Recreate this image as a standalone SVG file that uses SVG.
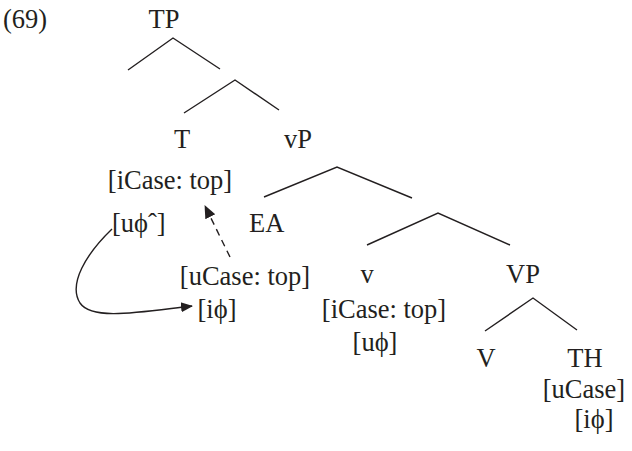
<svg xmlns="http://www.w3.org/2000/svg" width="632" height="451" viewBox="0 0 632 451">
<style>
text{font-family:"Liberation Serif","Times New Roman",serif;font-size:26.5px;fill:#231f20;text-anchor:middle}
.l{text-anchor:start}
.br{stroke:#231f20;stroke-width:1.4;fill:none}
</style>
<defs>
<marker id="ah" viewBox="0 0 12 12" refX="11" refY="6" markerWidth="12" markerHeight="12" markerUnits="userSpaceOnUse" orient="auto"><path d="M0,1 L12,6 L0,11 Z" fill="#231f20"/></marker>
<marker id="ah2" viewBox="0 0 13 13" refX="12" refY="6.5" markerWidth="13" markerHeight="13" markerUnits="userSpaceOnUse" orient="auto"><path d="M0,1 L13,6.5 L0,12 Z" fill="#231f20"/></marker>
</defs>
<text class="l" x="3" y="28">(69)</text>
<g id="TP"><text x="164" y="28">TP</text></g>
<g id="T"><text x="182" y="148">T</text><text x="170" y="189">[iCase: top]</text><text class="l" x="112" y="232">[uϕˆ]</text></g>
<g id="vP"><text x="298" y="148">vP</text></g>
<g id="EA"><text class="l" x="249" y="232">EA</text><text x="245" y="285">[uCase: top]</text><text x="217" y="318">[iϕ]</text></g>
<g id="v"><text x="367" y="283">v</text><text x="384" y="318">[iCase: top]</text><text x="375" y="351">[uϕ]</text></g>
<g id="VP"><text x="523" y="283">VP</text></g>
<g id="V"><text x="486" y="367">V</text></g>
<g id="TH"><text x="585" y="367">TH</text><text x="584" y="398">[uCase]</text><text x="594" y="428">[iϕ]</text></g>
<g id="connectors" class="br">
<path d="M128,70 L173,38 L220,69"/>
<path d="M184,113 L235,80 L279,110"/>
<path d="M264,197 L337,167 L412,198"/>
<path d="M367,245 L438,213 L510,245"/>
<path d="M485,331 L533,298 L577,330"/>
<path d="M230,257 L205,206" stroke-dasharray="7,5" marker-end="url(#ah2)"/>
<path d="M112,229 C86,254 68,284 80,303 C92,321 140,312 192,306" marker-end="url(#ah)"/>
</g>
</svg>
